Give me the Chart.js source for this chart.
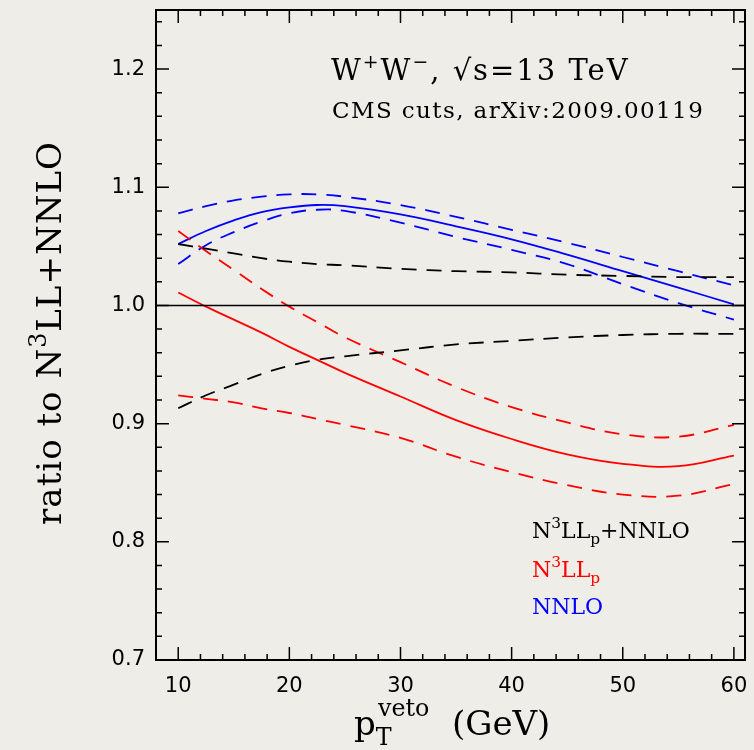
<!DOCTYPE html>
<html>
<head>
<meta charset="utf-8">
<script src="https://cdn.jsdelivr.net/npm/chart.js@4/dist/chart.umd.min.js"></script>
<style>
  html, body { margin: 0; padding: 0; background: #efede8; }
  #wrap { width: 754px; height: 750px; }
</style>
</head>
<body>
<div id="wrap"><canvas id="myChart" width="754" height="750"></canvas></div>
<script>
// p_T^veto values (GeV)
let ptVeto = [10, 12.5, 15, 17.5, 20, 22.5, 25, 30, 35, 40, 45, 50, 55, 60];

// NNLO (blue): central, upper and lower scale variation
let nnloCentral = [1.052, 1.063, 1.072, 1.079, 1.083, 1.085, 1.084, 1.077, 1.067, 1.056, 1.043, 1.029, 1.015, 1.001];
let nnloUp      = [1.078, 1.084, 1.089, 1.092, 1.094, 1.094, 1.092, 1.085, 1.075, 1.064, 1.053, 1.041, 1.029, 1.017];
let nnloDown    = [1.035, 1.051, 1.062, 1.071, 1.078, 1.081, 1.080, 1.070, 1.058, 1.047, 1.035, 1.018, 1.002, 0.988];

// N3LLp (red)
let n3llCentral = [1.011, 0.999, 0.988, 0.977, 0.965, 0.954, 0.943, 0.923, 0.903, 0.887, 0.874, 0.866, 0.864, 0.873];
let n3llUp      = [1.063, 1.046, 1.030, 1.014, 0.999, 0.986, 0.973, 0.952, 0.931, 0.914, 0.901, 0.891, 0.889, 0.899];
let n3llDown    = [0.924, 0.921, 0.918, 0.913, 0.909, 0.904, 0.899, 0.888, 0.872, 0.859, 0.848, 0.840, 0.839, 0.849];

// N3LLp+NNLO band (black)
let matchedUp   = [1.052, 1.048, 1.044, 1.040, 1.037, 1.035, 1.034, 1.031, 1.029, 1.028, 1.026, 1.025, 1.024, 1.024];
let matchedDown = [0.913, 0.924, 0.933, 0.942, 0.949, 0.954, 0.957, 0.962, 0.967, 0.970, 0.973, 0.975, 0.976, 0.976];

// reference line at ratio 1
let refX = [8, 61];
let refY = [1, 1];

// axis ticks
let xTicks = [10, 20, 30, 40, 50, 60];
let yTicks = [0.7, 0.8, 0.9, 1.0, 1.1, 1.2];

let serif = '"DejaVu Serif", "Liberation Serif", serif';
let sans = '"DejaVu Sans", sans-serif';

function toPoints(xs, ys) {
    let pts = [];
    for (let i = 0; i < xs.length; i++) {
        pts.push({ x: xs[i], y: ys[i] });
    }
    return pts;
}

function curve(label, ys, color, dashed) {
    return {
        label: label,
        data: toPoints(ptVeto, ys),
        borderColor: color,
        borderWidth: 1.8,
        borderDash: dashed ? [15, 10] : [],
        pointRadius: 0,
        fill: false,
        tension: 0.4
    };
}

// draw text made of pieces [text, raise, scale]
function drawRich(ctx, pieces, x, y, size, color, align, spacing) {
    ctx.letterSpacing = (spacing || 0) + 'px';
    let total = 0;
    pieces.forEach(p => {
        ctx.font = (size * (p[2] || 1)) + 'px ' + serif;
        total += ctx.measureText(p[0]).width;
    });
    let cx = align === 'center' ? x - total / 2 : x;
    ctx.fillStyle = color;
    ctx.textBaseline = 'alphabetic';
    ctx.textAlign = 'left';
    pieces.forEach(p => {
        ctx.font = (size * (p[2] || 1)) + 'px ' + serif;
        ctx.fillText(p[0], cx, y - (p[1] || 0) * size);
        cx += ctx.measureText(p[0]).width;
    });
    ctx.letterSpacing = '0px';
}

let paperPlugin = {
    id: 'paper',
    beforeDraw(chart) {
        let ctx = chart.ctx;
        ctx.save();
        ctx.fillStyle = '#efede8';
        ctx.fillRect(0, 0, chart.width, chart.height);
        ctx.restore();
    }
};

let framePlugin = {
    id: 'frame',
    afterDraw(chart) {
        let ctx = chart.ctx;
        let a = chart.chartArea;
        let xs = chart.scales.x;
        let ys = chart.scales.y;
        ctx.save();
        ctx.strokeStyle = '#000';
        ctx.lineWidth = 1.5;
        // inward ticks on all four sides
        ctx.beginPath();
        for (let v = 8; v <= 61; v += 2) {
            let px = xs.getPixelForValue(v);
            let len = (v % 10 === 0) ? 13 : 6;
            ctx.moveTo(px, a.bottom); ctx.lineTo(px, a.bottom - len);
            ctx.moveTo(px, a.top); ctx.lineTo(px, a.top + len);
        }
        for (let k = 35; k <= 62; k++) {
            let v = k * 0.02;
            let py = ys.getPixelForValue(v);
            let len = (k % 5 === 0) ? 13 : 6;
            ctx.moveTo(a.left, py); ctx.lineTo(a.left + len, py);
            ctx.moveTo(a.right, py); ctx.lineTo(a.right - len, py);
        }
        ctx.stroke();
        ctx.lineWidth = 2;
        ctx.strokeRect(a.left, a.top, a.right - a.left, a.bottom - a.top);

        // annotations
        drawRich(ctx, [['W', 0, 1], ['+', 0.4, 0.65], ['W', 0, 1], ['\u2212', 0.4, 0.65], [', \u221As=13 TeV', 0, 1]], 331, 80, 29, '#000', 'left', 2);
        drawRich(ctx, [['CMS cuts, arXiv:2009.00119', 0, 1]], 332, 118, 23, '#000', 'left', 1.4);

        // legend
        drawRich(ctx, [['N', 0, 1], ['3', 0.45, 0.7], ['LL', 0, 1], ['p', -0.25, 0.7], ['+NNLO', 0, 1]], 532, 538, 22, '#000', 'left');
        drawRich(ctx, [['N', 0, 1], ['3', 0.45, 0.7], ['LL', 0, 1], ['p', -0.25, 0.7]], 532, 577, 22, '#ff0000', 'left');
        drawRich(ctx, [['NNLO', 0, 1]], 532, 614, 22, '#0000ff', 'left');

        // x axis title
        drawRich(ctx, [['p', 0, 1], ['T', -0.3, 0.7]], 354, 735, 34, '#000', 'left');
        drawRich(ctx, [['veto', 0.55, 0.7]], 378, 735, 34, '#000', 'left');
        drawRich(ctx, [['(GeV)', 0, 1]], 452, 735, 34, '#000', 'left');

        // y axis title
        ctx.translate(61, 333);
        ctx.rotate(-Math.PI / 2);
        drawRich(ctx, [['ratio to N', 0, 1], ['3', 0.45, 0.7], ['LL+NNLO', 0, 1]], 0, 0, 34, '#000', 'center', 1);
        ctx.restore();
    }
};

let elCanvas = document.getElementById('myChart').getContext('2d');

let elChart = new Chart(elCanvas, {
    type: 'line',
    data: {
        datasets: [
            { label: 'ref', data: toPoints(refX, refY), borderColor: '#000', borderWidth: 1.6, pointRadius: 0, fill: false },
            curve('N3LLp+NNLO up', matchedUp, '#000', true),
            curve('N3LLp+NNLO down', matchedDown, '#000', true),
            curve('N3LLp', n3llCentral, '#ff0000', false),
            curve('N3LLp up', n3llUp, '#ff0000', true),
            curve('N3LLp down', n3llDown, '#ff0000', true),
            curve('NNLO', nnloCentral, '#0000ff', false),
            curve('NNLO up', nnloUp, '#0000ff', true),
            curve('NNLO down', nnloDown, '#0000ff', true)
        ]
    },
    options: {
        responsive: false,
        animation: false,
        layout: { padding: { top: 10, right: 9, left: 0, bottom: 0 } },
        plugins: { legend: { display: false }, tooltip: { enabled: false } },
        scales: {
            x: {
                type: 'linear',
                min: 8,
                max: 61,
                grid: { display: false, drawTicks: false },
                border: { display: false },
                afterFit: function(scale) {
                    scale.height = 90;
                    scale.paddingLeft = 0; scale.paddingRight = 0;
                },
                afterBuildTicks: function(scale) { scale.ticks = xTicks.map(v => ({ value: v })); },
                ticks: { color: '#000', padding: 14, font: { family: sans, size: 21 }, maxRotation: 0 }
            },
            y: {
                type: 'linear',
                min: 0.7,
                max: 1.25,
                grid: { display: false, drawTicks: false },
                border: { display: false },
                afterFit: function(scale) {
                    scale.width = 156;
                    scale.paddingTop = 0; scale.paddingBottom = 0;
                },
                afterBuildTicks: function(scale) { scale.ticks = yTicks.map(v => ({ value: v })); },
                ticks: { color: '#000', padding: 11, font: { family: sans, size: 21 },
                    callback: function(v) { return v.toFixed(1); } }
            }
        }
    },
    plugins: [paperPlugin, framePlugin]
});
</script>
</body>
</html>
